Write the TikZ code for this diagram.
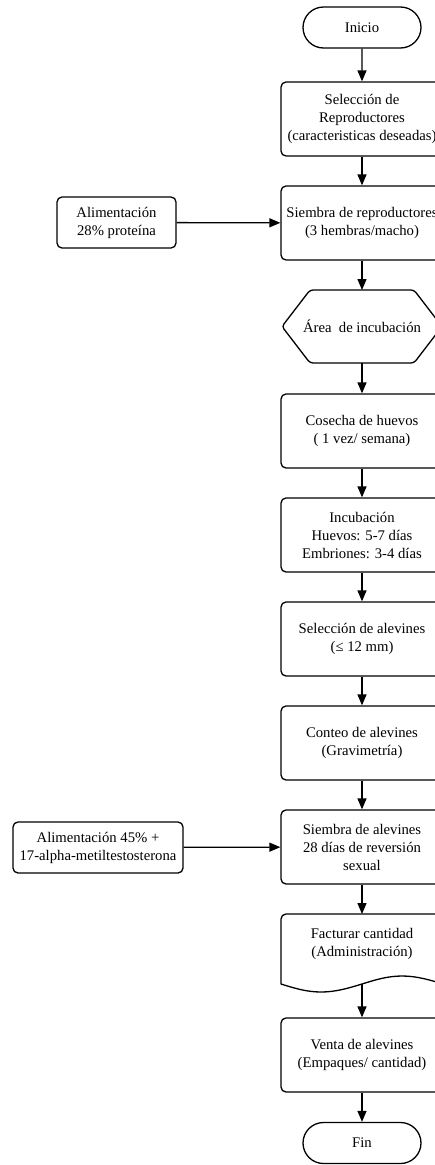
\documentclass[tikz,border=0pt]{standalone}
\usepackage{fontspec}
\setmainfont{Liberation Serif}
\usetikzlibrary{arrows.meta,shapes.misc}
\tikzset{
  base/.style={draw, line width=1.3pt, align=center, font=\fontsize{14.7}{18}\selectfont},
  proc/.style={base, rectangle, rounded corners=5pt, minimum width=162pt, minimum height=74pt, inner sep=0pt},
  feed/.style={base, rectangle, rounded corners=5pt, inner sep=0pt},
  term/.style={base, rounded rectangle, minimum width=118pt, minimum height=41pt, inner sep=0pt},
  lbl/.style={align=center, inner sep=0pt, font=\fontsize{14.7}{18}\selectfont},
  shp/.style={line width=1.3pt, line join=round},
  arr/.style={line width=1.3pt, -{Triangle[length=11pt,width=9pt]}}
}
\begin{document}
\begin{tikzpicture}[x=1pt,y=-1pt]
\useasboundingbox (0,0) rectangle (435,1165);
\clip (0,0) rectangle (435,1165);
\fill[white] (0,0) rectangle (435,1165);

\node[term] (ini) at (362,27.5) {Inicio};
\node[proc] (b1) at (362,119) {Selección de\\Reproductores\\(caracteristicas deseadas)};
\node[proc] (b2) at (362,223) {Siembra de reproductores\\(3 hembras/macho)};
\node[feed, minimum width=119pt, minimum height=51pt] (f1) at (116.5,222.5) {Alimentación\\28\% proteína};

% hexagon
\coordinate (hexN) at (362,290);
\coordinate (hexS) at (362,363);
\draw[shp, rounded corners=3pt] (282,326.5) -- (310,290) -- (414,290) -- (442,326.5) -- (414,363) -- (310,363) -- cycle;
\node[lbl] (hex) at (362,326.5) {Área\ \ de incubación};

\node[proc] (b4) at (362,431) {Cosecha de huevos\\( 1 vez/ semana)};
\node[proc] (b5) at (362,535) {Incubación\\Huevos: 5-7 días\\Embriones: 3-4 días};
\node[proc] (b6) at (362,639) {Selección de alevines\\(≤ 12 mm)};
\node[proc] (b7) at (362,743) {Conteo de alevines\\(Gravimetría)};
\node[proc] (b8) at (362,847) {Siembra de alevines\\28 días de reversión\\sexual};
\node[feed, minimum width=170pt, minimum height=51pt] (f2) at (98,847.5) {Alimentación 45\% +\\17-alpha-metiltestosterona};

% document shape
\coordinate (docN) at (362,914);
\coordinate (docS) at (362,984);
\draw[shp] (281,984) {[rounded corners=5pt] -- (281,914) -- (443,914) -- (443,960)} -- (443,984)
  sin (402,976) cos (362,984) sin (321,992) cos (281,984) -- cycle;
\node[lbl] (doc) at (362,944) {Facturar cantidad\\(Administración)};

\node[proc] (b10) at (362,1055) {Venta de alevines\\(Empaques/ cantidad)};
\node[term] (fin) at (362,1143) {Fin};

\draw[arr] (ini) -- (b1);
\draw[arr] (b1) -- (b2);
\draw[arr] (f1) -- (b2);
\draw[arr] (b2) -- (hexN);
\draw[arr] (hexS) -- (b4);
\draw[arr] (b4) -- (b5);
\draw[arr] (b5) -- (b6);
\draw[arr] (b6) -- (b7);
\draw[arr] (b7) -- (b8);
\draw[arr] (f2) -- (b8);
\draw[arr] (b8) -- (docN);
\draw[arr] (docS) -- (b10);
\draw[arr] (b10) -- (fin);
\end{tikzpicture}
\end{document}
